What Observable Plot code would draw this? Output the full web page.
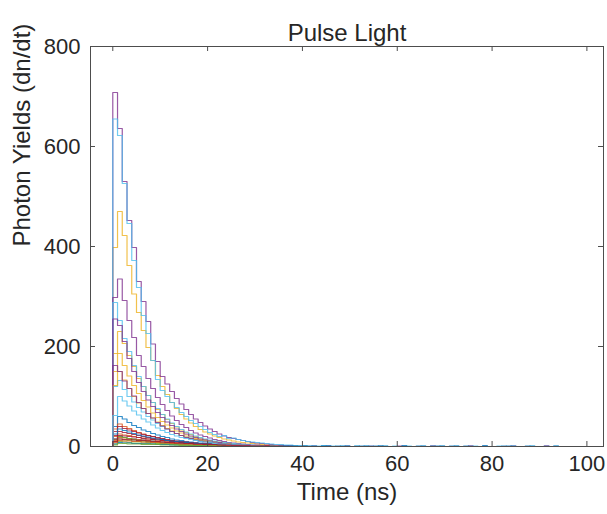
<!DOCTYPE html>
<html>
<head>
<meta charset="utf-8">
<script src="https://cdn.jsdelivr.net/npm/d3@7"></script>
<script src="https://cdn.jsdelivr.net/npm/@observablehq/plot@0.6"></script>
<style>
  html, body { margin: 0; padding: 0; background: #fff; }
  #chart { width: 607px; height: 514px; }
</style>
</head>
<body>
<div id="chart"></div>
<script>
// ---- tick labels & text ----
const titleText = "Pulse Light";
const xLabel = "Time (ns)";
const yLabel = "Photon Yields (dn/dt)";
const xTicks = [0, 20, 40, 60, 80, 100];
const yTicks = [0, 200, 400, 600, 800];

// ---- series values: counts per 1 ns bin starting at t = 0 ----
const run01 = [40,60,55,48,42,38,33,30,26,23,20,18,15,13,12,10,9,8,7,6,5,4,4,3,3,2,2,2,1,1,1,1,0,1,0,1,1,0,0,1,0,1,0,0,1,1,0,0,1,0,0,1,0,0,0,1,0,1,0,0,0,1,0,0,1,0,0,0,1,0,0,1,0,0,0,1,0,0,1,0,0,0,1,0,1,0,0,0,1,0,0,1,0,0,0,0];
const run02 = [35,45,40,36,32,28,25,22,20,17,15,13,12,10,9,8,7,6,5,4,4,3,3,2,2,2,1,1,1,0];
const run03 = [398,470,422,362,305,268,232,198,172,142,120,104,88,76,64,55,47,40,34,29,25,21,18,15,13,11,9,8,7,6,5,4,3,3,2,2,1,1,1,0,1,0];
const run04 = [708,636,530,452,398,330,290,250,205,170,140,125,110,96,85,74,64,55,48,41,35,30,25,21,18,16,14,12,10,8,7,6,5,4,3,3,2,2,1,1,1,0,1,0,0,1,0,0,0,1,0,0,0,0,1,0,0,0,0,0,1,0,0,0,0,0,0,1,0,0,0,0,0,0,0,1,0,0,0,0,0,0,0,0,1,0,0,0,0,0,0,1,0,0,0,0];
const run05 = [10,15,13,12,11,10,9,8,7,6,6,5,4,4,3,3,3,2,2,2,1,1,1,1,0];
const run06 = [655,622,526,446,372,318,262,226,172,134,112,100,88,78,68,60,52,46,40,34,28,24,20,22,16,17,14,12,10,9,8,7,6,5,4,4,3,3,2,2,2,1,1,1,2,1,1,0,1,1,0,1,0,1,1,0,0,1,0,1,0,0,1,0,0,1,0,0,0,1,0,0,1,0,0,0,1,0,0,0,0,1,0,0,1,0,0,0,1,0,0,0,0,1,0,0];
const run07 = [30,40,36,33,30,27,24,22,20,18,16,14,12,11,10,9,8,7,6,5,5,4,3,3,3,2,2,2,1,1,1,1,0];
const run08 = [15,20,18,16,15,14,13,12,11,10,9,8,7,6,6,5,5,4,4,3,3,3,2,2,2,2,1,1,1,1,1,0,1,0,0,1,0,1,0,0,1,0,0,0,1,0,0,1,0,0,0,0,1,0,0,0,1,0,0,0,0,1,0,0,0,0,0,1,0,0,0,0,1,0,0,0,0,0,1,0];
const run09 = [20,25,23,22,20,18,17,15,14,13,12,11,10,9,8,7,6,6,5,5,4,4,3,3,3,2,2,2,1,1,1,1,0];
const run10 = [186,230,206,182,160,136,120,102,88,74,64,54,46,39,33,28,24,20,17,14,12,10,9,8,6,5,4,4,3,2,2,1,1,0];
const run11 = [298,335,292,252,218,182,160,136,116,98,84,72,61,52,44,38,32,27,23,20,17,14,12,10,8,7,6,5,4,3,3,2,2,1,1,1,0];
const run12 = [5,10,9,8,7,7,6,6,5,5,4,4,4,3,3,3,2,2,2,2,1,1,1,1,0];
const run13 = [288,252,216,190,162,140,120,102,88,76,64,55,47,40,34,29,25,21,18,15,13,11,9,8,7,6,5,4,3,3,2,2,1,1,0];
const run14 = [22,30,28,26,24,22,20,18,16,15,14,12,11,10,9,8,7,6,6,5,5,4,4,3,3,3,2,2,2,1,1,1,0];
const run15 = [5,8,7,7,6,6,5,5,5,4,4,4,3,3,3,3,2,2,2,2,2,1,1,1,1,1,1,0];
const run16 = [12,18,17,16,15,14,13,12,11,10,9,9,8,7,7,6,5,5,4,4,4,3,3,3,2,2,2,2,1,1,1,1,0];
const run17 = [150,186,162,141,122,106,92,79,67,58,50,43,37,31,27,23,19,16,14,12,10,8,7,6,5,4,3,3,2,2,1,1,0];
const run18 = [255,242,210,176,150,128,110,93,80,68,58,49,42,35,30,25,21,18,15,13,11,9,8,6,5,4,4,3,2,2,1,1,0];
const run19 = [14,20,18,16,14,12,11,10,9,8,7,6,6,5,4,4,3,3,3,2,2,2,1,1,1,0];
const run20 = [120,132,114,100,89,78,69,60,53,46,40,35,30,26,22,19,17,14,12,10,9,8,6,5,4,4,3,3,2,2,1,1,0];
const run21 = [15,22,21,20,19,18,16,15,14,13,12,11,10,9,8,8,7,6,6,5,5,4,4,3,3,3,2,2,2,2,1,1,1,0];
const run22 = [25,35,32,29,26,23,21,19,17,15,14,12,11,10,9,8,7,6,6,5,5,4,4,3,3,3,2,2,2,1,1,1,0,1,0,0,1,0,1,0,0,0,1,0,0,1,0,0,0,1,0,0,0,1,0,0,1,0,0,0,0,1,0,0,0,1,0,0,0,1,0,0,0,0,1,0,0,0,1,0,0,0,0,1,0,0,0,1,0,0,0,0,0,1];
const run23 = [8,12,11,11,10,10,9,9,8,8,7,7,6,6,5,5,5,4,4,4,3,3,3,3,2,2,2,2,2,1,1,1,1,1,0];
const run24 = [122,150,133,116,100,87,76,66,57,49,42,36,31,26,22,19,16,14,12,10,8,7,6,5,4,3,3,2,2,1,1,0];
const run25 = [162,150,131,116,101,88,76,66,57,48,41,35,30,26,22,18,16,13,11,9,8,7,6,5,4,3,3,2,2,1,1,0];
const run26 = [3,6,6,5,5,5,4,4,4,4,3,3,3,3,2,2,2,2,2,1,1,1,1,0];
const run27 = [62,100,91,81,71,63,55,49,43,37,32,28,24,21,18,16,14,12,10,9,8,6,5,5,4,3,3,2,2,1,1,1,0];
const run28 = [10,15,14,14,13,12,12,11,10,10,9,8,8,7,7,6,6,5,5,4,4,4,3,3,3,2,2,2,2,1,1,1,1,0];

const seriesValues = [run01,run02,run03,run04,run05,run06,run07,run08,run09,run10,run11,run12,run13,run14,
                      run15,run16,run17,run18,run19,run20,run21,run22,run23,run24,run25,run26,run27,run28];
const seriesNames = seriesValues.map((_, i) => "run " + (i + 1));

// MATLAB default line colour order
const matlabColors = ["#0072BD", "#D95319", "#EDB120", "#7E2F8E", "#77AC30", "#4DBEEE", "#A2142F"];

// Build stair-step (histogram outline) points from the arrays
const rows = [];
seriesValues.forEach((vals, si) => {
  const s = seriesNames[si];
  rows.push({s, t: 0, v: 0});
  vals.forEach((v, i) => rows.push({s, t: i, v}));
  rows.push({s, t: vals.length, v: vals[vals.length - 1]});
  rows.push({s, t: vals.length, v: 0});
});

const W = 607, H = 514;
const mL = 90, mR = 4, mT = 46, mB = 68;
const frameW = W - mL - mR, frameH = H - mT - mB;
const tickLen = 5;
const axisColor = "#4d4d4d";
const textColor = "#262626";

const chart = Plot.plot({
  width: W,
  height: H,
  marginLeft: mL,
  marginRight: mR,
  marginTop: mT,
  marginBottom: mB,
  style: {fontFamily: "'Liberation Sans', Arial, sans-serif", color: textColor, background: "#fff"},
  x: {domain: [-4.7, 103.5]},
  y: {domain: [0, 800]},
  color: {type: "ordinal", domain: seriesNames, range: seriesNames.map((_, i) => matlabColors[i % 7])},
  marks: [
    Plot.line(rows, {x: "t", y: "v", z: "s", stroke: "s", curve: "step-after", strokeWidth: 1.2, strokeOpacity: 0.8}),
    Plot.frame({stroke: axisColor, strokeWidth: 1}),
    // inward ticks on all four sides
    Plot.tickX(xTicks, {x: d => d, insetTop: frameH - tickLen, stroke: axisColor}),
    Plot.tickX(xTicks, {x: d => d, insetBottom: frameH - tickLen, stroke: axisColor}),
    Plot.tickY(yTicks, {y: d => d, insetRight: frameW - tickLen, stroke: axisColor}),
    Plot.tickY(yTicks, {y: d => d, insetLeft: frameW - tickLen, stroke: axisColor}),
    Plot.axisX(xTicks, {tickSize: 0, tickPadding: 9, fontSize: 22, label: null, fill: textColor}),
    Plot.axisY(yTicks, {tickSize: 0, tickPadding: 10, fontSize: 22, label: null, fill: textColor}),
    Plot.text([titleText], {text: d => d, frameAnchor: "top", dy: -23, fontSize: 24, fill: textColor}),
    Plot.text([xLabel], {text: d => d, frameAnchor: "bottom", dy: 53, fontSize: 24, fill: textColor}),
    Plot.text([yLabel], {text: d => d, frameAnchor: "left", dx: -68, rotate: -90, fontSize: 24, fill: textColor})
  ]
});
document.getElementById("chart").appendChild(chart);
</script>
</body>
</html>
